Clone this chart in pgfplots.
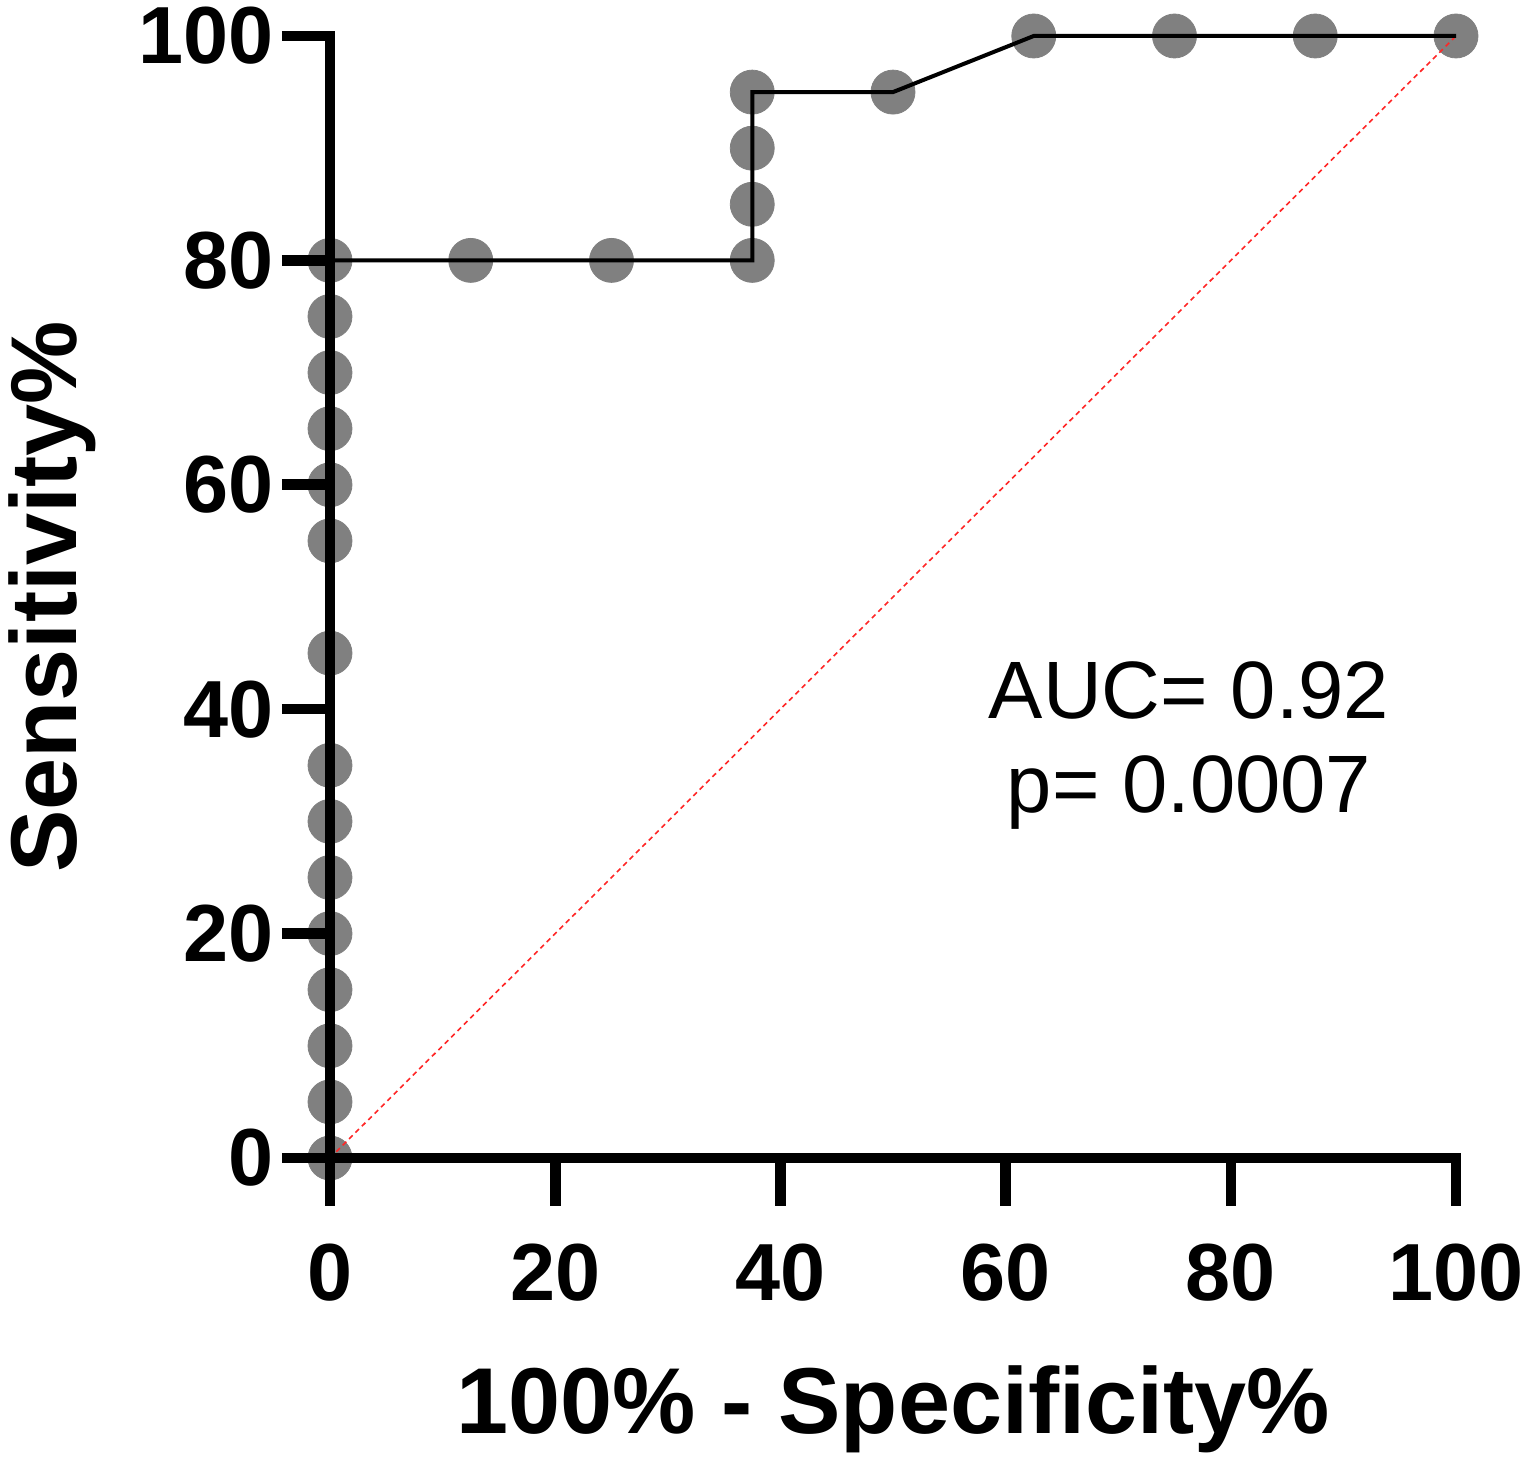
\documentclass[border=0pt]{standalone}
\usepackage{fontspec}
\setmainfont{Liberation Sans}
\usepackage{pgfplots}
\pgfplotsset{compat=1.18}
\pgfplotstableread{
x y
0 0
0 5
0 10
0 15
0 20
0 25
0 30
0 35
0 45
0 55
0 60
0 65
0 70
0 75
0 80
12.5 80
25 80
37.5 80
37.5 85
37.5 90
37.5 95
50 95
62.5 100
75 100
87.5 100
100 100
}\roc
\begin{document}
\begin{tikzpicture}
\begin{axis}[
  at={(0,0)}, anchor=south west,
  scale only axis, width=563pt, height=561pt,
  xmin=0, xmax=100, ymin=0, ymax=100,
  axis x line=bottom, axis y line=left,
  axis line style={-, line width=5.3pt, line cap=rect, black},
  set layers=axis on top, clip=false, clip mode=individual,
  xtick={0,20,...,100}, ytick={0,20,...,100},
  tick align=outside, major tick length=24pt,
  every tick/.style={line width=5.3pt, black, line cap=butt},
  /pgf/number format/assume math mode=true,
  ticklabel style={font=\fontsize{40.5}{48}\selectfont\bfseries},
  xticklabel style={anchor=base, inner sep=0pt, yshift=-47.5pt},
  yticklabel style={anchor=east, inner sep=0pt, xshift=-4pt},
  every axis x label/.style={at={(axis description cs:0.5,-0.2451)}, anchor=base, font=\fontsize{46.8}{56}\selectfont\bfseries},
  every axis y label/.style={at={(axis description cs:-0.2247,0.5)}, rotate=90, anchor=base, font=\fontsize{46.8}{56}\selectfont\bfseries},
  xlabel={100\% - Specificity\%},
  ylabel={Sensitivity\%},
]
\addplot[black!50, only marks, mark=*, mark size=11pt, mark options={draw=black!50, fill=black!50}] table {\roc};
\addplot[red!85!white, line width=0.8pt, dash pattern=on 2.5pt off 2pt] coordinates {(0,0) (100,100)};
\addplot[black, line width=2pt, line join=miter] table {\roc};
\node[anchor=base, font=\fontsize{40.7}{48}\selectfont] at (axis cs:76.3,39.2) {AUC= 0.92};
\node[anchor=base, font=\fontsize{40.7}{48}\selectfont] at (axis cs:76.3,30.75) {p= 0.0007};
\end{axis}
\pgfresetboundingbox
\path (-165pt,-150pt) rectangle (599pt,579pt);
\end{tikzpicture}
\end{document}
